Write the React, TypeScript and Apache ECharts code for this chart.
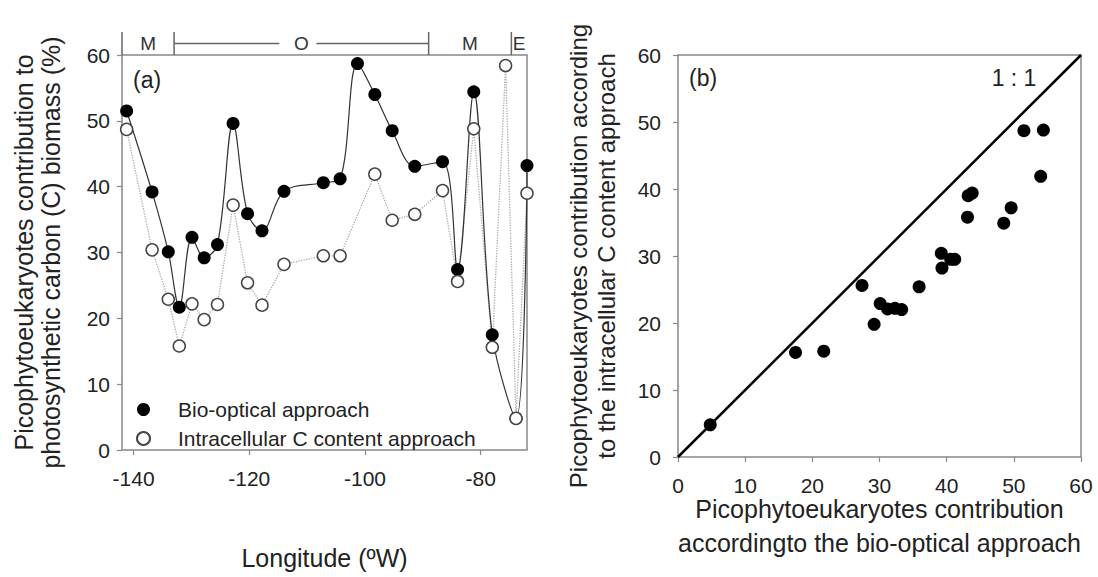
import React, { useEffect, useRef } from "react";
import * as echarts from "echarts";

const longitude = [-141.2, -136.8, -134.0, -132.1, -129.9, -127.8, -125.5, -122.8, -120.3, -117.8, -114.0, -107.2, -104.3, -101.3, -98.3, -95.3, -91.4, -86.6, -84.0, -81.2, -78.0, -75.7, -73.9, -72.0];
const bioOptical: (number | null)[] = [51.5, 39.2, 30.1, 21.7, 32.3, 29.2, 31.2, 49.6, 35.9, 33.3, 39.3, 40.6, 41.2, 58.7, 54.0, 48.5, 43.1, 43.8, 27.4, 54.4, 17.5, null, 4.8, 43.2];
const intracellularC: (number | null)[] = [48.7, 30.4, 22.9, 15.8, 22.2, 19.8, 22.1, 37.2, 25.4, 22.0, 28.2, 29.5, 29.5, null, 41.9, 34.9, 35.8, 39.4, 25.6, 48.8, 15.6, 58.4, 4.8, 39.0];

const regionLabels = ["M", "O", "M", "E"];
const regionBounds = [-142, -133, -89, -74.7, -72];

const lonTicks = [-140, -120, -100, -80];
const oneToOne = [0, 60];

const FONT = "'Liberation Sans', Arial, Helvetica, sans-serif";
const TXT = "#222";
const FRAME = "#888";

const BIO = "Bio-optical approach";
const INC = "Intracellular C content approach";

export default function App() {
  const ref = useRef<HTMLDivElement>(null);
  useEffect(() => {
    if (!ref.current) return;
    const chart = echarts.init(ref.current, null, { renderer: "svg" });

    const bioPts = longitude.map((x, i) => [x, bioOptical[i]]).filter((p) => p[1] != null);
    const incPts = longitude.map((x, i) => [x, intracellularC[i]]).filter((p) => p[1] != null);
    const cmpPts = longitude
      .map((_, i) => [bioOptical[i], intracellularC[i]])
      .filter((p) => p[0] != null && p[1] != null);

    const tickStyle = { show: true, inside: false, length: 5, lineStyle: { color: FRAME, width: 1.2 } };
    const labelStyle = { color: TXT, fontSize: 21, fontFamily: FONT };
    const nameStyle = { color: TXT, fontSize: 24, fontFamily: FONT, lineHeight: 28, verticalAlign: "middle" };

    chart.setOption({
      animation: false,
      textStyle: { fontFamily: FONT },
      grid: [
        { left: 122, right: 571, top: 55, bottom: 120, show: true, borderColor: FRAME, borderWidth: 1.5, backgroundColor: "transparent" },
        { left: 678, right: 17, top: 55, bottom: 120, show: true, borderColor: FRAME, borderWidth: 1.5, backgroundColor: "transparent" },
      ],
      legend: {
        data: [BIO, INC],
        orient: "vertical",
        left: 131,
        top: 394,
        itemWidth: 13,
        itemHeight: 13,
        itemGap: 8,
        textStyle: { color: TXT, fontSize: 21, fontFamily: FONT, padding: [0, 0, 0, 23] },
      },
      xAxis: [
        {
          type: "value", gridIndex: 0, min: -142, max: -72,
          axisLine: { show: false }, splitLine: { show: false },
          axisTick: { ...tickStyle, customValues: lonTicks },
          axisLabel: { ...labelStyle, margin: 18, customValues: lonTicks },
          name: "Longitude (ºW)", nameLocation: "middle", nameGap: 108, nameMoveOverlap: false,
          nameTextStyle: { ...nameStyle, fontSize: 25 },
        },
        {
          type: "value", gridIndex: 1, min: 0, max: 60, interval: 10,
          axisLine: { show: false }, splitLine: { show: false },
          axisTick: tickStyle,
          axisLabel: { ...labelStyle, margin: 18 },
          name: "Picophytoeukaryotes contribution\naccordingto the bio-optical approach", nameLocation: "middle", nameGap: 69,
          nameMoveOverlap: false,
          nameTextStyle: { ...nameStyle, fontSize: 25, lineHeight: 34 },
        },
      ],
      yAxis: [
        {
          type: "value", gridIndex: 0, min: 0, max: 60, interval: 10,
          axisLine: { show: false }, splitLine: { show: false },
          axisTick: tickStyle,
          axisLabel: { ...labelStyle, margin: 12 },
          name: "Picophytoeukaryotes contribution to\nphotosynthetic carbon (C) biomass (%)", nameLocation: "middle", nameGap: 85,
          nameMoveOverlap: false,
          nameTextStyle: { ...nameStyle, fontSize: 25, lineHeight: 27 },
        },
        {
          type: "value", gridIndex: 1, min: 0, max: 60, interval: 10,
          axisLine: { show: false }, splitLine: { show: false },
          axisTick: tickStyle,
          axisLabel: { ...labelStyle, margin: 17 },
          name: "Picophytoeukaryotes contribution according\nto the intracellular C content approach", nameLocation: "middle", nameGap: 86,
          nameMoveOverlap: false,
          nameTextStyle: { ...nameStyle, fontSize: 24, lineHeight: 28 },
        },
      ],
      series: [
        {
          name: "bioLine", type: "line", xAxisIndex: 0, yAxisIndex: 0, data: bioPts,
          smooth: 0.35, showSymbol: false, silent: true, clip: false,
          lineStyle: { color: "#333", width: 1.2 }, z: 2,
        },
        {
          name: "incLine", type: "line", xAxisIndex: 0, yAxisIndex: 0, data: incPts,
          showSymbol: false, silent: true, clip: false,
          lineStyle: { color: "#aaa", width: 1.3, type: "dotted" }, z: 1,
        },
        {
          name: BIO, type: "scatter", xAxisIndex: 0, yAxisIndex: 0, data: bioPts, clip: false,
          symbol: "circle", symbolSize: 13, itemStyle: { color: "#000", opacity: 1 }, z: 3,
        },
        {
          name: INC, type: "scatter", xAxisIndex: 0, yAxisIndex: 0, data: incPts, clip: false,
          symbol: "circle", symbolSize: 12, itemStyle: { color: "#fff", borderColor: "#444", borderWidth: 1.5, opacity: 1 }, z: 4,
        },
        {
          name: "oneToOne", type: "line", xAxisIndex: 1, yAxisIndex: 1,
          data: [[oneToOne[0], oneToOne[0]], [oneToOne[1], oneToOne[1]]],
          showSymbol: false, silent: true, lineStyle: { color: "#000", width: 2.5 }, z: 2,
        },
        {
          name: "comparison", type: "scatter", xAxisIndex: 1, yAxisIndex: 1, data: cmpPts,
          symbol: "circle", symbolSize: 13, itemStyle: { color: "#000", opacity: 1 }, z: 3,
        },
      ],
    });

    // Region band above panel (a)
    const px = (v: number) => chart.convertToPixel({ xAxisIndex: 0 }, v) as number;
    const topY = 55;
    const bandTop = 32;
    const bandMid = 43.5;
    const lineStyle = { stroke: "#666", lineWidth: 1.5 };
    const graphics: any[] = [];
    for (let i = 0; i < regionBounds.length - 1; i++) {
      const x = px(regionBounds[i]);
      graphics.push({ type: "line", shape: { x1: x, y1: bandTop, x2: x, y2: topY }, style: lineStyle, silent: true });
    }
    regionLabels.forEach((lab, i) => {
      const x0 = px(regionBounds[i]);
      const x1 = px(regionBounds[i + 1]);
      const cx = (x0 + x1) / 2;
      graphics.push({
        type: "text", x: cx, y: bandMid,
        style: { text: lab, fill: "#333", font: `19px ${FONT}`, align: "center", verticalAlign: "middle" },
        silent: true,
      });
      if (lab === "O") {
        graphics.push({ type: "line", shape: { x1: x0, y1: bandMid, x2: cx - 22, y2: bandMid }, style: lineStyle, silent: true });
        graphics.push({ type: "line", shape: { x1: cx + 15, y1: bandMid, x2: x1, y2: bandMid }, style: lineStyle, silent: true });
      }
    });
    graphics.push({
      type: "text", x: 133, y: 80,
      style: { text: "(a)", fill: TXT, font: `23px ${FONT}`, verticalAlign: "middle" }, silent: true,
    });
    graphics.push({
      type: "text", x: 689, y: 78,
      style: { text: "(b)", fill: TXT, font: `23px ${FONT}`, verticalAlign: "middle" }, silent: true,
    });
    graphics.push({
      type: "text", x: 1014, y: 78,
      style: { text: "1 : 1", fill: TXT, font: `23px ${FONT}`, align: "center", verticalAlign: "middle" }, silent: true,
    });
    chart.setOption({ graphic: graphics });

    return () => chart.dispose();
  }, []);
  return <div ref={ref} style={{ width: 1098, height: 577, position: "absolute", left: 0, top: 0 }} />;
}
